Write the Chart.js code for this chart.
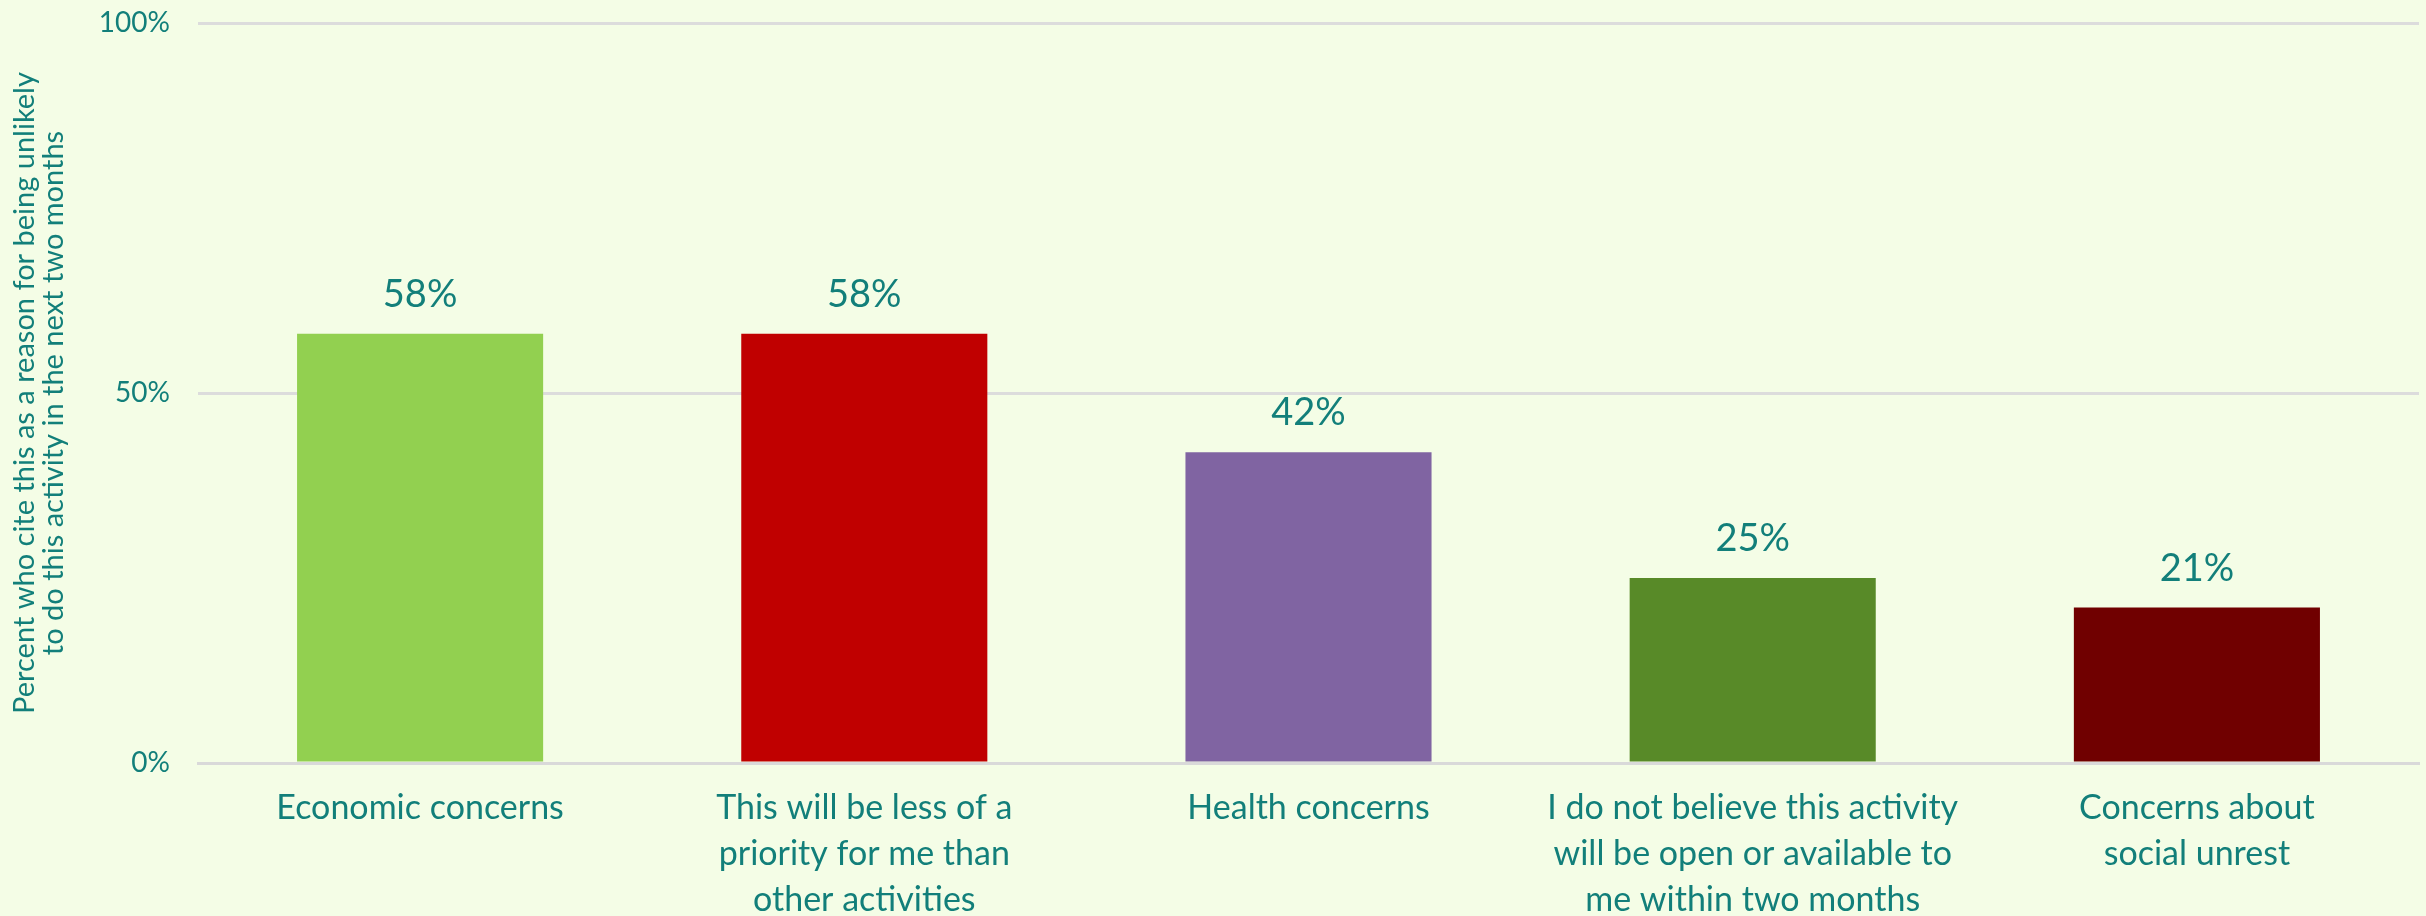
<!DOCTYPE html>
<html>
<head>
<meta charset="utf-8">
<script src="https://cdn.jsdelivr.net/npm/chart.js@4/dist/chart.umd.min.js"></script>
<style>
  html, body { margin: 0; padding: 0; background: #F4FDE6; }
  #wrap { width: 2426px; height: 916px; }
</style>
</head>
<body>
<div id="wrap"><canvas id="reasonsChart" width="2426" height="916"></canvas></div>
<script>
// Reasons for being unlikely to do the activity
const categories = [
    ['Economic concerns'],
    ['This will be less of a', 'priority for me than', 'other activities'],
    ['Health concerns'],
    ['I do not believe this activity', 'will be open or available to', 'me within two months'],
    ['Concerns about', 'social unrest']
];
const percents = [58, 58, 42, 25, 21];
const barColors = ['#92D050', '#C00000', '#8064A2', '#588A28', '#700000'];
const yTicks = [0, 50, 100];
const yTitle = ['Percent who cite this as a reason for being unlikely', 'to do this activity in the next two months'];

const teal = '#127F7A';
const fontFamily = 'Lato, "Open Sans", sans-serif';

// Draw the percent value above each bar
const valueLabels = {
    id: 'valueLabels',
    afterDatasetsDraw(chart) {
        const ctx = chart.ctx;
        const meta = chart.getDatasetMeta(0);
        ctx.save();
        ctx.fillStyle = teal;
        ctx.font = '38px ' + fontFamily;
        ctx.textAlign = 'center';
        ctx.textBaseline = 'bottom';
        meta.data.forEach((bar, i) => {
            ctx.fillText(percents[i] + '%', bar.x, bar.y - 20);
        });
        ctx.restore();
    }
};

new Chart(document.getElementById('reasonsChart'), {
    type: 'bar',
    data: {
        labels: categories,
        datasets: [{
            data: percents,
            backgroundColor: barColors,
            borderWidth: 0,
            barPercentage: 0.554,
            categoryPercentage: 1
        }]
    },
    options: {
        responsive: false,
        animation: false,
        devicePixelRatio: 1,
        layout: { padding: { top: 23, right: 7, left: 0, bottom: 0 } },
        plugins: {
            legend: { display: false },
            tooltip: { enabled: false }
        },
        scales: {
            x: {
                grid: { display: false, drawTicks: false },
                border: { display: true, color: '#D9D9D9', width: 3 },
                ticks: {
                    color: teal,
                    font: { family: fontFamily, size: 34, lineHeight: 1.35 },
                    padding: 22,
                    maxRotation: 0,
                    autoSkip: false
                },
                afterFit(scale) {
                    scale.height = 153;
                    scale.paddingLeft = 0;
                    scale.paddingRight = 0;
                }
            },
            y: {
                min: 0,
                max: 100,
                afterBuildTicks(scale) {
                    scale.ticks = yTicks.map(v => ({ value: v }));
                },
                grid: { color: '#DCDCDC', lineWidth: 3, drawTicks: false },
                border: { display: false },
                ticks: {
                    color: teal,
                    font: { family: fontFamily, size: 28 },
                    padding: 28,
                    callback: v => v + '%'
                },
                title: {
                    display: true,
                    text: yTitle,
                    color: teal,
                    font: { family: fontFamily, size: 29, lineHeight: 1.0 },
                    padding: { top: 10, bottom: 0 }
                },
                afterFit(scale) {
                    scale.width = 198;
                    scale.paddingTop = 0;
                    scale.paddingBottom = 0;
                }
            }
        }
    },
    plugins: [valueLabels]
});
</script>
</body>
</html>
